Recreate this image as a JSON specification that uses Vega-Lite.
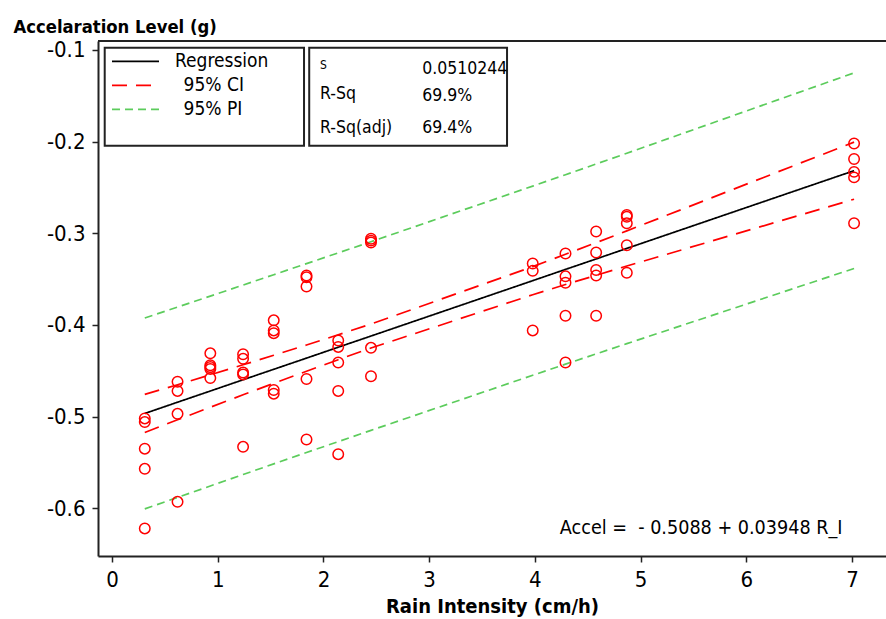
{
  "$schema": "https://vega.github.io/schema/vega-lite/v6.json",
  "width": 788,
  "height": 515,
  "autosize": "none",
  "padding": {"left": 98, "top": 41, "right": 0, "bottom": 63},
  "background": "white",
  "config": {
    "view": {"stroke": null},
    "font": "DejaVu Sans Condensed",
    "text": {"font": "DejaVu Sans Condensed", "color": "#000"}
  },
  "datasets": {
    "obs": [
      {"ri": 0.31, "accel": -0.502}, {"ri": 0.31, "accel": -0.506}, {"ri": 0.31, "accel": -0.535}, {"ri": 0.31, "accel": -0.557}, {"ri": 0.31, "accel": -0.622},
      {"ri": 0.62, "accel": -0.462}, {"ri": 0.62, "accel": -0.472}, {"ri": 0.62, "accel": -0.497}, {"ri": 0.62, "accel": -0.593},
      {"ri": 0.93, "accel": -0.431}, {"ri": 0.93, "accel": -0.444}, {"ri": 0.93, "accel": -0.446}, {"ri": 0.93, "accel": -0.448}, {"ri": 0.93, "accel": -0.458},
      {"ri": 1.24, "accel": -0.432}, {"ri": 1.24, "accel": -0.437}, {"ri": 1.24, "accel": -0.452}, {"ri": 1.24, "accel": -0.454}, {"ri": 1.24, "accel": -0.533},
      {"ri": 1.53, "accel": -0.395}, {"ri": 1.53, "accel": -0.406}, {"ri": 1.53, "accel": -0.409}, {"ri": 1.53, "accel": -0.471}, {"ri": 1.53, "accel": -0.475},
      {"ri": 1.84, "accel": -0.346}, {"ri": 1.84, "accel": -0.348}, {"ri": 1.84, "accel": -0.358}, {"ri": 1.84, "accel": -0.459}, {"ri": 1.84, "accel": -0.525},
      {"ri": 2.14, "accel": -0.417}, {"ri": 2.14, "accel": -0.424}, {"ri": 2.14, "accel": -0.441}, {"ri": 2.14, "accel": -0.472}, {"ri": 2.14, "accel": -0.541},
      {"ri": 2.45, "accel": -0.306}, {"ri": 2.45, "accel": -0.308}, {"ri": 2.45, "accel": -0.310}, {"ri": 2.45, "accel": -0.425}, {"ri": 2.45, "accel": -0.456},
      {"ri": 3.98, "accel": -0.333}, {"ri": 3.98, "accel": -0.341}, {"ri": 3.98, "accel": -0.406},
      {"ri": 4.29, "accel": -0.322}, {"ri": 4.29, "accel": -0.347}, {"ri": 4.29, "accel": -0.354}, {"ri": 4.29, "accel": -0.390}, {"ri": 4.29, "accel": -0.441},
      {"ri": 4.58, "accel": -0.298}, {"ri": 4.58, "accel": -0.321}, {"ri": 4.58, "accel": -0.340}, {"ri": 4.58, "accel": -0.346}, {"ri": 4.58, "accel": -0.390},
      {"ri": 4.87, "accel": -0.280}, {"ri": 4.87, "accel": -0.282}, {"ri": 4.87, "accel": -0.289}, {"ri": 4.87, "accel": -0.313}, {"ri": 4.87, "accel": -0.343},
      {"ri": 7.02, "accel": -0.202}, {"ri": 7.02, "accel": -0.219}, {"ri": 7.02, "accel": -0.233}, {"ri": 7.02, "accel": -0.239}, {"ri": 7.02, "accel": -0.289}
    ],
    "fits": [
      {"ri": 0.31, "accel": -0.4966, "curve": "Regression", "side": "fit"},
      {"ri": 0.62, "accel": -0.4843, "curve": "Regression", "side": "fit"},
      {"ri": 0.93, "accel": -0.4721, "curve": "Regression", "side": "fit"},
      {"ri": 1.24, "accel": -0.4598, "curve": "Regression", "side": "fit"},
      {"ri": 1.53, "accel": -0.4484, "curve": "Regression", "side": "fit"},
      {"ri": 1.84, "accel": -0.4362, "curve": "Regression", "side": "fit"},
      {"ri": 2.14, "accel": -0.4243, "curve": "Regression", "side": "fit"},
      {"ri": 2.45, "accel": -0.4121, "curve": "Regression", "side": "fit"},
      {"ri": 3.98, "accel": -0.3517, "curve": "Regression", "side": "fit"},
      {"ri": 4.29, "accel": -0.3394, "curve": "Regression", "side": "fit"},
      {"ri": 4.58, "accel": -0.3280, "curve": "Regression", "side": "fit"},
      {"ri": 4.87, "accel": -0.3165, "curve": "Regression", "side": "fit"},
      {"ri": 7.02, "accel": -0.2317, "curve": "Regression", "side": "fit"},

      {"ri": 0.31, "accel": -0.4758, "curve": "95% CI", "side": "upper"},
      {"ri": 0.62, "accel": -0.4652, "curve": "95% CI", "side": "upper"},
      {"ri": 0.93, "accel": -0.4544, "curve": "95% CI", "side": "upper"},
      {"ri": 1.24, "accel": -0.4435, "curve": "95% CI", "side": "upper"},
      {"ri": 1.53, "accel": -0.4331, "curve": "95% CI", "side": "upper"},
      {"ri": 1.84, "accel": -0.4219, "curve": "95% CI", "side": "upper"},
      {"ri": 2.14, "accel": -0.4107, "curve": "95% CI", "side": "upper"},
      {"ri": 2.45, "accel": -0.3990, "curve": "95% CI", "side": "upper"},
      {"ri": 3.98, "accel": -0.3364, "curve": "95% CI", "side": "upper"},
      {"ri": 4.29, "accel": -0.3229, "curve": "95% CI", "side": "upper"},
      {"ri": 4.58, "accel": -0.3102, "curve": "95% CI", "side": "upper"},
      {"ri": 4.87, "accel": -0.2974, "curve": "95% CI", "side": "upper"},
      {"ri": 7.02, "accel": -0.2005, "curve": "95% CI", "side": "upper"},

      {"ri": 0.31, "accel": -0.5173, "curve": "95% CI", "side": "lower"},
      {"ri": 0.62, "accel": -0.5035, "curve": "95% CI", "side": "lower"},
      {"ri": 0.93, "accel": -0.4898, "curve": "95% CI", "side": "lower"},
      {"ri": 1.24, "accel": -0.4762, "curve": "95% CI", "side": "lower"},
      {"ri": 1.53, "accel": -0.4637, "curve": "95% CI", "side": "lower"},
      {"ri": 1.84, "accel": -0.4505, "curve": "95% CI", "side": "lower"},
      {"ri": 2.14, "accel": -0.4379, "curve": "95% CI", "side": "lower"},
      {"ri": 2.45, "accel": -0.4252, "curve": "95% CI", "side": "lower"},
      {"ri": 3.98, "accel": -0.3670, "curve": "95% CI", "side": "lower"},
      {"ri": 4.29, "accel": -0.3559, "curve": "95% CI", "side": "lower"},
      {"ri": 4.58, "accel": -0.3458, "curve": "95% CI", "side": "lower"},
      {"ri": 4.87, "accel": -0.3357, "curve": "95% CI", "side": "lower"},
      {"ri": 7.02, "accel": -0.2628, "curve": "95% CI", "side": "lower"},

      {"ri": 0.31, "accel": -0.3924, "curve": "95% PI", "side": "upper"},
      {"ri": 0.62, "accel": -0.3805, "curve": "95% PI", "side": "upper"},
      {"ri": 0.93, "accel": -0.3685, "curve": "95% PI", "side": "upper"},
      {"ri": 1.24, "accel": -0.3565, "curve": "95% PI", "side": "upper"},
      {"ri": 1.53, "accel": -0.3452, "curve": "95% PI", "side": "upper"},
      {"ri": 1.84, "accel": -0.3331, "curve": "95% PI", "side": "upper"},
      {"ri": 2.14, "accel": -0.3214, "curve": "95% PI", "side": "upper"},
      {"ri": 2.45, "accel": -0.3092, "curve": "95% PI", "side": "upper"},
      {"ri": 3.98, "accel": -0.2485, "curve": "95% PI", "side": "upper"},
      {"ri": 4.29, "accel": -0.2361, "curve": "95% PI", "side": "upper"},
      {"ri": 4.58, "accel": -0.2244, "curve": "95% PI", "side": "upper"},
      {"ri": 4.87, "accel": -0.2127, "curve": "95% PI", "side": "upper"},
      {"ri": 7.02, "accel": -0.1250, "curve": "95% PI", "side": "upper"},

      {"ri": 0.31, "accel": -0.6007, "curve": "95% PI", "side": "lower"},
      {"ri": 0.62, "accel": -0.5882, "curve": "95% PI", "side": "lower"},
      {"ri": 0.93, "accel": -0.5757, "curve": "95% PI", "side": "lower"},
      {"ri": 1.24, "accel": -0.5632, "curve": "95% PI", "side": "lower"},
      {"ri": 1.53, "accel": -0.5516, "curve": "95% PI", "side": "lower"},
      {"ri": 1.84, "accel": -0.5392, "curve": "95% PI", "side": "lower"},
      {"ri": 2.14, "accel": -0.5273, "curve": "95% PI", "side": "lower"},
      {"ri": 2.45, "accel": -0.5150, "curve": "95% PI", "side": "lower"},
      {"ri": 3.98, "accel": -0.4549, "curve": "95% PI", "side": "lower"},
      {"ri": 4.29, "accel": -0.4428, "curve": "95% PI", "side": "lower"},
      {"ri": 4.58, "accel": -0.4316, "curve": "95% PI", "side": "lower"},
      {"ri": 4.87, "accel": -0.4204, "curve": "95% PI", "side": "lower"},
      {"ri": 7.02, "accel": -0.3384, "curve": "95% PI", "side": "lower"}
    ]
  },
  "layer": [
    {
      "data": {"name": "fits"},
      "mark": {"type": "line", "strokeWidth": 1.7},
      "encoding": {
        "x": {
          "field": "ri", "type": "quantitative",
          "scale": {"domain": [-0.1325, 7.322], "nice": false, "zero": false},
          "axis": {
            "values": [0, 1, 2, 3, 4, 5, 6, 7],
            "labelExpr": "format(datum.value, 'd')",
            "grid": false,
            "domainColor": "#222", "domainWidth": 2,
            "tickColor": "#222", "tickWidth": 1.5, "tickSize": 6,
            "labelFont": "DejaVu Sans Condensed", "labelFontSize": 22, "labelColor": "#000",
            "labelPadding": 7, "labelFlush": false, "labelOverlap": false,
            "title": "Rain Intensity (cm/h)",
            "titleFont": "DejaVu Sans Condensed", "titleFontWeight": "bold", "titleFontSize": 20,
            "titleColor": "#000", "titleY": 56, "titleBaseline": "alphabetic"
          }
        },
        "y": {
          "field": "accel", "type": "quantitative",
          "scale": {"domain": [-0.6521, -0.0902], "nice": false, "zero": false},
          "axis": {
            "values": [-0.6, -0.5, -0.4, -0.3, -0.2, -0.1],
            "labelExpr": "replace(format(datum.value, '.1f'), '−', '-')",
            "grid": false,
            "domainColor": "#222", "domainWidth": 2,
            "tickColor": "#222", "tickWidth": 1.5, "tickSize": 6,
            "labelFont": "DejaVu Sans Condensed", "labelFontSize": 22, "labelColor": "#000",
            "labelPadding": 7, "labelFlush": false, "labelOverlap": false,
            "title": "Accelaration Level (g)",
            "titleFont": "DejaVu Sans Condensed", "titleFontWeight": "bold", "titleFontSize": 18.3,
            "titleColor": "#000", "titleAngle": 0, "titleAlign": "left",
            "titleX": -85, "titleY": -9, "titleBaseline": "alphabetic"
          }
        },
        "detail": {"field": "side", "type": "nominal"},
        "order": {"field": "ri", "type": "quantitative"},
        "color": {
          "field": "curve", "type": "nominal",
          "scale": {"domain": ["Regression", "95% CI", "95% PI"], "range": ["#000000", "#ff0000", "#5ccc5c"]},
          "legend": {
            "orient": "none", "legendX": 13, "legendY": 9.3, "padding": 0,
            "title": null,
            "symbolType": "M-1,0H3.7", "symbolSize": 400, "symbolStrokeWidth": 1.7,
            "labelFont": "DejaVu Sans Condensed", "labelFontSize": 19, "labelColor": "#000",
            "labelOffset": 42, "rowPadding": 3,
            "labelExpr": "datum.value == 'Regression' ? 'Regression' : '\u200b\u2002' + datum.value"
          }
        },
        "strokeDash": {
          "field": "curve", "type": "nominal",
          "scale": {"domain": ["Regression", "95% CI", "95% PI"], "range": [[1, 0], [15, 9], [8, 5]]},
          "legend": {
            "orient": "none", "legendX": 13, "legendY": 9.3, "padding": 0,
            "title": null,
            "symbolType": "M-1,0H3.7", "symbolSize": 400, "symbolStrokeWidth": 1.7,
            "labelFont": "DejaVu Sans Condensed", "labelFontSize": 19, "labelColor": "#000",
            "labelOffset": 42, "rowPadding": 3,
            "labelExpr": "datum.value == 'Regression' ? 'Regression' : '\u200b\u2002' + datum.value"
          }
        }
      }
    },
    {
      "data": {"name": "obs"},
      "mark": {"type": "point", "shape": "circle", "filled": false, "color": "#ff0000", "size": 110, "strokeWidth": 1.5, "opacity": 1},
      "encoding": {
        "x": {"field": "ri", "type": "quantitative"},
        "y": {"field": "accel", "type": "quantitative"}
      }
    },
    {
      "data": {"values": [{}]},
      "mark": {"type": "rule", "color": "#222", "strokeWidth": 2},
      "encoding": {"y": {"datum": -0.0902}}
    },
    {
      "data": {"values": [{}]},
      "mark": {"type": "rect", "fill": null, "stroke": "#222", "strokeWidth": 2},
      "encoding": {
        "x": {"datum": -0.069}, "x2": {"datum": 1.8165},
        "y": {"datum": -0.0976}, "y2": {"datum": -0.2046}
      }
    },
    {
      "data": {"values": [{}]},
      "mark": {"type": "rect", "fill": null, "stroke": "#222", "strokeWidth": 2},
      "encoding": {
        "x": {"datum": 1.8656}, "x2": {"datum": 3.737},
        "y": {"datum": -0.0976}, "y2": {"datum": -0.2046}
      }
    },
    {
      "data": {"values": [{}]},
      "mark": {"type": "text", "text": "S", "fontSize": 12, "align": "left", "baseline": "alphabetic"},
      "encoding": {"x": {"datum": 1.968}, "y": {"datum": -0.1211}}
    },
    {
      "data": {"values": [{}]},
      "mark": {"type": "text", "text": "0.0510244", "fontSize": 17.5, "align": "left", "baseline": "alphabetic"},
      "encoding": {"x": {"datum": 2.935}, "y": {"datum": -0.1262}}
    },
    {
      "data": {"values": [{}]},
      "mark": {"type": "text", "text": "R-Sq", "fontSize": 17.5, "align": "left", "baseline": "alphabetic"},
      "encoding": {"x": {"datum": 1.968}, "y": {"datum": -0.1538}}
    },
    {
      "data": {"values": [{}]},
      "mark": {"type": "text", "text": "69.9%", "fontSize": 17.5, "align": "left", "baseline": "alphabetic"},
      "encoding": {"x": {"datum": 2.935}, "y": {"datum": -0.1557}}
    },
    {
      "data": {"values": [{}]},
      "mark": {"type": "text", "text": "R-Sq(adj)", "fontSize": 17.5, "align": "left", "baseline": "alphabetic"},
      "encoding": {"x": {"datum": 1.968}, "y": {"datum": -0.1903}}
    },
    {
      "data": {"values": [{}]},
      "mark": {"type": "text", "text": "69.4%", "fontSize": 17.5, "align": "left", "baseline": "alphabetic"},
      "encoding": {"x": {"datum": 2.935}, "y": {"datum": -0.1903}}
    },
    {
      "data": {"values": [{}]},
      "mark": {"type": "text", "text": "Accel = \u00a0- 0.5088 + 0.03948 R_I", "fontSize": 19.6, "align": "left", "baseline": "alphabetic"},
      "encoding": {"x": {"datum": 4.236}, "y": {"datum": -0.6276}}
    }
  ]
}
